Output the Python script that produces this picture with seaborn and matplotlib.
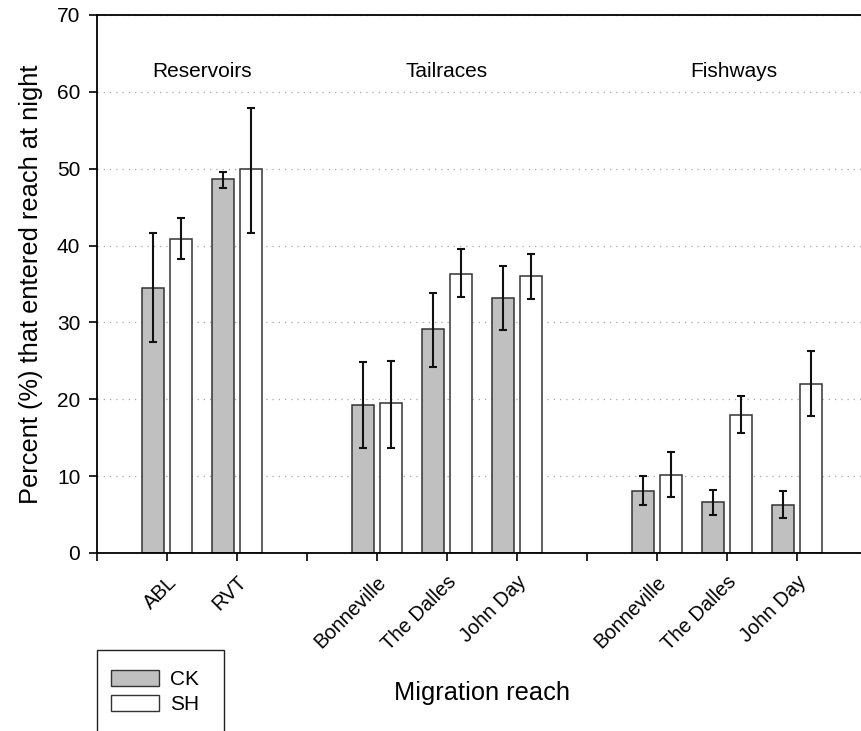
import matplotlib
matplotlib.use("Agg")
import matplotlib.pyplot as plt
import seaborn as sns
import pandas as pd
import numpy as np
from matplotlib.patches import Rectangle, Patch

# ---- data ----
reaches = ["ABL", "RVT", "Bonneville", "The Dalles", "John Day",
           "Bonneville", "The Dalles", "John Day"]
groups = ["Reservoirs", "Reservoirs", "Tailraces", "Tailraces", "Tailraces",
          "Fishways", "Fishways", "Fishways"]
slots = [1, 2, 4, 5, 6, 8, 9, 10]
ck_values = [34.5, 48.6, 19.3, 29.1, 33.2, 8.1, 6.6, 6.3]
ck_lower = [27.4, 47.5, 13.6, 24.2, 29.0, 6.2, 5.0, 4.6]
ck_upper = [41.6, 49.6, 24.9, 33.8, 37.3, 10.0, 8.2, 8.1]
sh_values = [40.9, 49.9, 19.5, 36.3, 36.0, 10.2, 18.0, 22.0]
sh_lower = [38.2, 41.7, 13.7, 33.3, 33.1, 7.3, 15.6, 17.8]
sh_upper = [43.6, 57.9, 25.0, 39.5, 38.9, 13.2, 20.4, 26.3]
group_names = ["Reservoirs", "Tailraces", "Fishways"]
group_label_pos = [1.5, 5.0, 9.1]
species = ["CK", "SH"]
y_ticks = [0, 10, 20, 30, 40, 50, 60, 70]

df = pd.DataFrame({
    "slot": slots * 2,
    "species": ["CK"] * len(slots) + ["SH"] * len(slots),
    "value": ck_values + sh_values,
})

sns.set_style("white")
plt.rcParams["font.family"] = ["Liberation Sans", "DejaVu Sans"]
plt.rcParams["text.color"] = "black"
plt.rcParams["axes.labelcolor"] = "black"
plt.rcParams["xtick.color"] = "black"
plt.rcParams["ytick.color"] = "black"

fig = plt.figure(figsize=(8.62, 7.31), dpi=100)
ax = fig.add_axes([97 / 862, (731 - 553) / 731, 770 / 862, 538 / 731])

ax.yaxis.grid(True, linestyle=(0, (1, 4)), color="#a8a8a8", linewidth=0.9)
ax.set_axisbelow(True)

sns.barplot(data=df, x="slot", y="value", hue="species", hue_order=species,
            native_scale=True, width=0.8, gap=0.2,
            palette={"CK": "#c0c0c0", "SH": "#ffffff"},
            edgecolor="#333333", linewidth=1.1, errorbar=None,
            legend=False, ax=ax, zorder=2)

# error bars
offsets = {"CK": -0.2, "SH": 0.2}
for sp, vals, lo, hi in [("CK", ck_values, ck_lower, ck_upper),
                         ("SH", sh_values, sh_lower, sh_upper)]:
    vals = np.array(vals); lo = np.array(lo); hi = np.array(hi)
    ax.errorbar(np.array(slots) + offsets[sp], vals,
                yerr=[vals - lo, hi - vals], fmt="none", ecolor="#111111",
                elinewidth=1.5, capsize=3.2, capthick=1.5, zorder=3)

ax.set_xlim(0, 11)
ax.set_ylim(0, 70)
ax.set_yticks(y_ticks)
ax.set_yticklabels([str(t) for t in y_ticks], fontsize=15, color="black")
ax.set_xticks(range(0, 11))
lab = {s: r for s, r in zip(slots, reaches)}
ax.set_xticklabels([lab.get(i, "") for i in range(0, 11)], fontsize=14.5,
                   rotation=45, ha="right", rotation_mode="anchor",
                   color="black")
ax.tick_params(axis="both", direction="out", length=6, width=1.2,
               colors="black", bottom=True, left=True)
ax.tick_params(axis="x", pad=8)
ax.tick_params(axis="y", pad=6)

for side in ["top", "left", "bottom"]:
    ax.spines[side].set_visible(True)
    ax.spines[side].set_color("black")
    ax.spines[side].set_linewidth(1.3)
ax.spines["right"].set_visible(False)

ax.set_xlabel("")
ax.set_ylabel("Percent (%) that entered reach at night", fontsize=18.3,
              labelpad=10, color="black")
fig.text(482 / 862, 1 - 693 / 731, "Migration reach", fontsize=18.3,
         ha="center", va="center", color="black")

for g, xp in zip(group_names, group_label_pos):
    ax.text(xp, 62.6, g, fontsize=15, ha="center", va="center",
            color="black")

# legend
handles = [Patch(facecolor="#c0c0c0", edgecolor="#333333", linewidth=1.0),
           Patch(facecolor="#ffffff", edgecolor="#333333", linewidth=1.0)]
leg = fig.legend(handles, species, loc="upper left",
                 bbox_to_anchor=(111 / 862, 1 - 670 / 731), frameon=False,
                 fontsize=15, handlelength=2.3, handleheight=0.77,
                 handletextpad=0.55, labelspacing=0.3, borderpad=0,
                 borderaxespad=0)
for t in leg.get_texts():
    t.set_color("black")
frame = Rectangle((97 / 862, -20 / 731), 127 / 862, (731 - 650 + 20) / 731,
                  transform=fig.transFigure, facecolor="none",
                  edgecolor="#222222", linewidth=1.0)
fig.patches.append(frame)

fig.savefig("out.png", dpi=100)
